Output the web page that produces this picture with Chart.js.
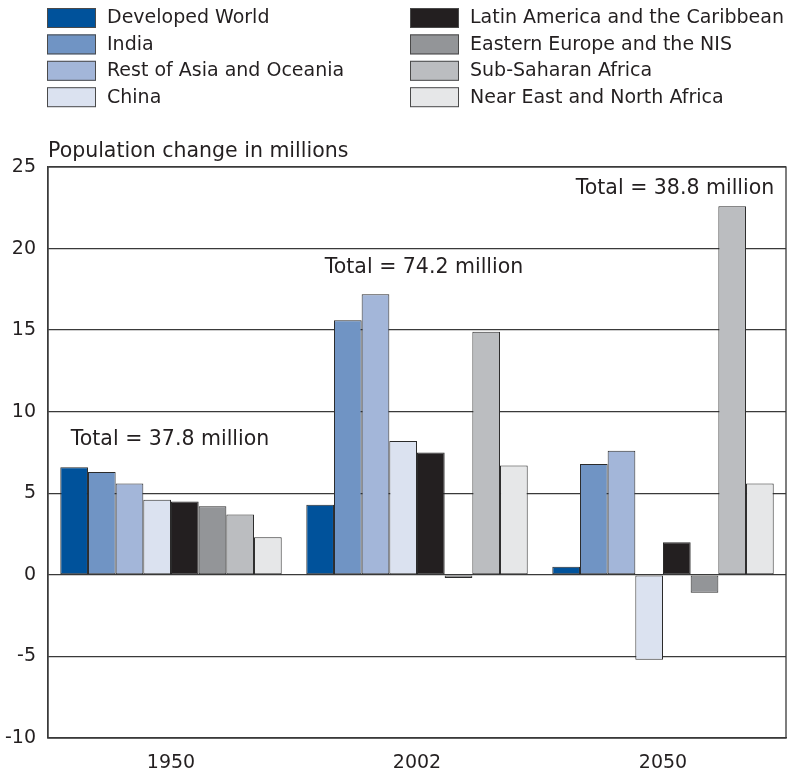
<!DOCTYPE html>
<html>
<head>
<meta charset="utf-8">
<script src="https://cdn.jsdelivr.net/npm/chart.js@4/dist/chart.umd.min.js"></script>
<style>
  html, body { margin: 0; padding: 0; background: #fff; }
  #wrap { width: 793px; height: 772px; position: relative; }
</style>
</head>
<body>
<div id="wrap"><canvas id="c" width="793" height="772"></canvas></div>
<script>
const categories = ["1950", "2002", "2050"];
const seriesNames = [
  "Developed World", "India", "Rest of Asia and Oceania", "China",
  "Latin America and the Caribbean", "Eastern Europe and the NIS",
  "Sub-Saharan Africa", "Near East and North Africa"
];
const developedWorld = [6.6, 4.3, 0.5];
const india = [6.3, 15.6, 6.8];
const restOfAsia = [5.6, 17.2, 7.6];
const china = [4.6, 8.2, -5.2];
const latinAmerica = [4.5, 7.5, 2.0];
const easternEurope = [4.2, -0.2, -1.1];
const subSaharan = [3.7, 14.9, 22.6];
const nearEast = [2.3, 6.7, 5.6];
const totalLabels = ["Total = 37.8 million", "Total = 74.2 million", "Total = 38.8 million"];
const yTicks = [25, 20, 15, 10, 5, 0, -5, -10];
const yTitle = "Population change in millions";

const seriesValues = [developedWorld, india, restOfAsia, china, latinAmerica, easternEurope, subSaharan, nearEast];
const colors = ["#00529b", "#7094c4", "#a3b6d9", "#dbe2f0", "#231f20", "#939598", "#bbbdc0", "#e6e7e8"];
const FONT = "'DejaVu Sans', sans-serif";
const FSIZE = 19;
const FSIZE_LABEL = 20.5;
const TEXT = "#231f20";

// annotation anchor (pixel offset from category centre, value on y axis)
const annotAnchor = [{dx: -1, y: 8.3}, {dx: 7, y: 18.8}, {dx: 12, y: 23.7}];

const decor = {
  id: 'decor',
  afterDraw(chart) {
    const ctx = chart.ctx;
    const a = chart.chartArea;
    const xs = chart.scales.x, ys = chart.scales.y;
    ctx.save();
    // frame
    ctx.strokeStyle = "#3a3a3a";
    ctx.lineWidth = 1.3;
    ctx.strokeRect(a.left, a.top, a.right - a.left, a.bottom - a.top);
    // y title
    ctx.fillStyle = TEXT;
    ctx.font = FSIZE_LABEL + "px " + FONT;
    ctx.textAlign = "left";
    ctx.textBaseline = "middle";
    ctx.fillText(yTitle, a.left, 152);
    // totals
    ctx.textAlign = "center";
    totalLabels.forEach((t, i) => {
      ctx.fillText(t, xs.getPixelForValue(i) + annotAnchor[i].dx, ys.getPixelForValue(annotAnchor[i].y));
    });
    // legend
    ctx.font = FSIZE + "px " + FONT;
    const ds = chart.data.datasets;
    ds.forEach((d, i) => {
      const col = Math.floor(i / 4), row = i % 4;
      const bx = col === 0 ? 47 : 410;
      const by = 8 + row * 26.4;
      ctx.fillStyle = d.backgroundColor;
      ctx.fillRect(bx, by, 49, 20);
      ctx.strokeStyle = "#4a4a4a";
      ctx.lineWidth = 1;
      ctx.strokeRect(bx + 0.5, by + 0.5, 48, 19);
      ctx.fillStyle = TEXT;
      ctx.textAlign = "left";
      ctx.fillText(d.label, bx + 60, by + 10.5);
    });
    ctx.restore();
  }
};

new Chart(document.getElementById('c'), {
  type: 'bar',
  data: {
    labels: categories,
    datasets: seriesNames.map((n, i) => ({
      label: n,
      data: seriesValues[i],
      backgroundColor: colors[i],
      borderColor: "#2b2b2b",
      borderWidth: 1,
      borderSkipped: false,
      categoryPercentage: 0.9,
      barPercentage: 1.0
    }))
  },
  options: {
    responsive: false,
    animation: false,
    layout: { padding: { top: 167, right: 7, left: 0, bottom: 0 } },
    plugins: { legend: { display: false }, tooltip: { enabled: false } },
    scales: {
      x: {
        grid: { display: false },
        border: { display: true, color: "#3a3a3a", width: 1.3 },
        ticks: { color: TEXT, font: { family: FONT, size: FSIZE }, padding: 6 },
        afterFit(s) { s.height = 34; }
      },
      y: {
        min: -10, max: 25,
        afterBuildTicks(s) { s.ticks = yTicks.map(v => ({ value: v })); },
        grid: { color: "#3a3a3a", lineWidth: 1.3, drawTicks: false },
        border: { display: true, color: "#3a3a3a", width: 1.3 },
        ticks: { color: TEXT, font: { family: FONT, size: FSIZE }, padding: 12 },
        afterFit(s) { s.width = 48; }
      }
    }
  },
  plugins: [decor]
});
</script>
</body>
</html>
